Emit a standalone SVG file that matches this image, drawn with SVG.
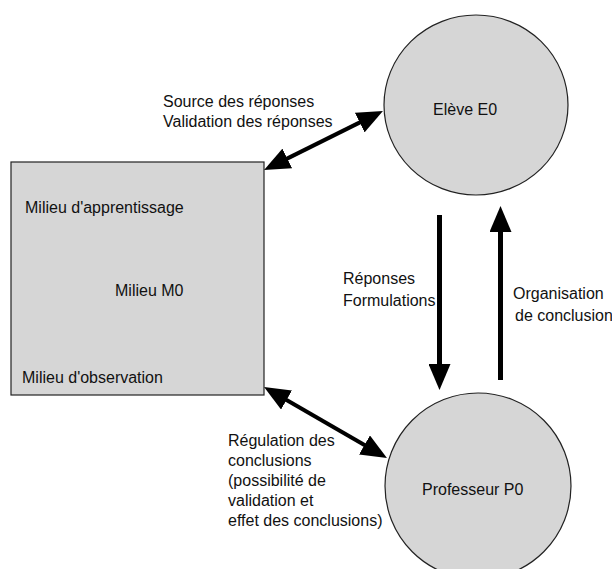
<svg xmlns="http://www.w3.org/2000/svg" width="612" height="569" viewBox="0 0 612 569">
<defs>
<style>
text{font-family:"Liberation Sans",Arial,sans-serif;font-size:16px;fill:#111}
.node{fill:#d6d6d6;stroke:#222;stroke-width:1.2}
.conn{fill:none;stroke:#000}
.d{stroke-width:4}
.v{stroke-width:5}
</style>
<marker id="ah" viewBox="0 0 26 22" markerUnits="userSpaceOnUse" markerWidth="26" markerHeight="22" refX="16" refY="11" orient="auto-start-reverse">
<path d="M0,0 L26,11 L0,22 z" fill="#000"/>
</marker>
</defs>
<rect width="612" height="569" fill="#fff"/>
<g id="milieu">
<rect class="node" x="11" y="162" width="253" height="233"/>
<text x="25" y="213">Milieu d'apprentissage</text>
<text x="115" y="296">Milieu M0</text>
<text x="22" y="383">Milieu d'observation</text>
</g>
<g id="eleve">
<ellipse class="node" cx="476" cy="105" rx="92" ry="90"/>
<text x="433" y="115">Elève E0</text>
</g>
<g id="professeur">
<ellipse class="node" cx="478" cy="486" rx="93" ry="93"/>
<text x="422" y="495">Professeur P0</text>
</g>
<g id="connectors">
<path class="conn d" d="M273,165.6 L374,115.4" marker-start="url(#ah)" marker-end="url(#ah)"/>
<path class="conn d" d="M272.7,392 L378.3,453" marker-start="url(#ah)" marker-end="url(#ah)"/>
<path class="conn v" d="M439.5,215 L439.5,380" marker-end="url(#ah)"/>
<path class="conn v" d="M500.5,380 L500.5,216" marker-end="url(#ah)"/>
</g>
<g id="labels">
<text x="163" y="107">Source des réponses</text>
<text x="163" y="127">Validation des réponses</text>
<text x="343" y="284">Réponses</text>
<text x="343" y="306">Formulations</text>
<text x="513" y="299">Organisation</text>
<text x="515" y="321">de conclusion</text>
<text x="228" y="446">Régulation des</text>
<text x="228" y="466">conclusions</text>
<text x="228" y="486">(possibilité de</text>
<text x="228" y="506">validation et</text>
<text x="228" y="526">effet des conclusions)</text>
</g>
</svg>
